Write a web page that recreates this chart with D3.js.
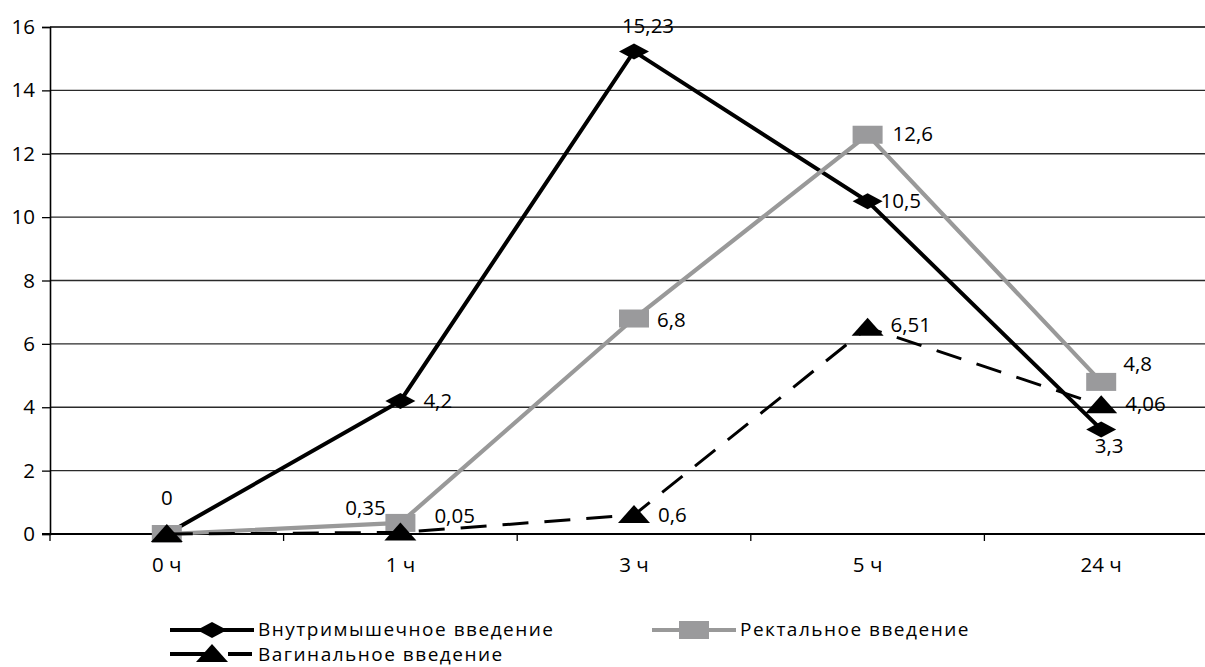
<!DOCTYPE html>
<html>
<head>
<meta charset="utf-8">
<script src="https://cdn.jsdelivr.net/npm/d3@7"></script>
<style>
  html, body { margin: 0; padding: 0; background: #fff; }
  svg { display: block; font-family: "Open Sans", "DejaVu Sans", sans-serif; }
</style>
</head>
<body>
<svg id="chart" width="1205" height="667"></svg>
<script>
// Time points and concentrations for three routes of administration
const categories = ["0 ч", "1 ч", "3 ч", "5 ч", "24 ч"];
const yTicks = [0, 2, 4, 6, 8, 10, 12, 14, 16];

const imValues = [0, 4.2, 15.23, 10.5, 3.3];        // Внутримышечное введение
const rectalValues = [0, 0.35, 6.8, 12.6, 4.8];     // Ректальное введение
const vaginalValues = [0, 0.05, 0.6, 6.51, 4.06];   // Вагинальное введение

const seriesNames = ["Внутримышечное введение", "Ректальное введение", "Вагинальное введение"];

// Label placement per point: [dx, dy, anchor]; null = no label
const imLabelPos = [[0, -29, "middle"], [23, 7, "start"], [14, -18, "middle"], [13, 7, "start"], [8, 24, "middle"]];
const rectalLabelPos = [null, [-35, -8, "middle"], [23, 8, "start"], [25, 6, "start"], [22, -11, "start"]];
const vaginalLabelPos = [null, [34, -9, "start"], [24, 7, "start"], [23, 4, "start"], [24, 6, "start"]];

const FONT = 20.5;
const LEGEND_FONT = 19;

const svg = d3.select("#chart");
const margin = { left: 50, top: 27, bottom: 534 };
const plotRight = 1218;

const x = d3.scaleBand().domain(categories).range([margin.left, plotRight]).padding(0);
const cx = c => x(c) + x.bandwidth() / 2;
const y = d3.scaleLinear().domain([0, 16]).range([margin.bottom, margin.top]);

// Horizontal grid lines
svg.append("g")
  .selectAll("line")
  .data(yTicks.filter(t => t > 0))
  .join("line")
  .attr("x1", margin.left).attr("x2", 1205)
  .attr("y1", d => y(d)).attr("y2", d => y(d))
  .attr("stroke", d => d === 16 ? "#000" : "#2a2a2a")
  .attr("stroke-width", 1.3);

// Y axis
const yAxis = svg.append("g")
  .attr("transform", `translate(${margin.left},0)`)
  .call(d3.axisLeft(y).tickValues(yTicks).tickSize(8).tickPadding(7).tickFormat(d3.format("d")));
yAxis.select(".domain").attr("stroke", "#000").attr("stroke-width", 1.6);
yAxis.selectAll(".tick line").attr("stroke", "#000").attr("stroke-width", 1.3);
yAxis.selectAll(".tick text")
  .attr("font-size", FONT).attr("fill", "#000")
  .attr("font-family", "'Open Sans', sans-serif");

// X axis: tick marks at category boundaries, labels at centres
const xAxisG = svg.append("g").attr("transform", `translate(0,${margin.bottom})`);
xAxisG.append("line")
  .attr("x1", margin.left - 8).attr("x2", 1205)
  .attr("y1", 0).attr("y2", 0)
  .attr("stroke", "#000").attr("stroke-width", 2);
xAxisG.selectAll("line.bound")
  .data(categories)
  .join("line")
  .attr("class", "bound")
  .attr("x1", d => x(d)).attr("x2", d => x(d))
  .attr("y1", 0).attr("y2", 7)
  .attr("stroke", "#000").attr("stroke-width", 1.3);
xAxisG.selectAll("text")
  .data(categories)
  .join("text")
  .attr("x", d => cx(d))
  .attr("y", 38)
  .attr("text-anchor", "middle")
  .attr("font-size", FONT)
  .text(d => d);

// Marker shapes (flattened, wider than tall)
function drawMarker(g, type, px, py, color) {
  if (type === "diamond") {
    g.append("path")
      .attr("d", `M${px - 15},${py} L${px},${py - 8} L${px + 15},${py} L${px},${py + 8} Z`)
      .attr("fill", color);
  } else if (type === "square") {
    g.append("rect")
      .attr("x", px - 15).attr("y", py - 9).attr("width", 30).attr("height", 18)
      .attr("fill", color);
  } else {
    g.append("path")
      .attr("d", `M${px},${py - 10} L${px + 16},${py + 8} L${px - 16},${py + 8} Z`)
      .attr("fill", color);
  }
}

const series = [
  { name: seriesNames[0], values: imValues, labels: imLabelPos, color: "#000", markerColor: "#000", marker: "diamond", dash: null, width: 4 },
  { name: seriesNames[1], values: rectalValues, labels: rectalLabelPos, color: "#999999", markerColor: "#9a9a9c", marker: "square", dash: null, width: 4.2 },
  { name: seriesNames[2], values: vaginalValues, labels: vaginalLabelPos, color: "#000", markerColor: "#000", marker: "triangle", dash: "26,16", width: 3 }
];

const line = d3.line().x(d => cx(d.c)).y(d => y(d.v));

series.forEach(s => {
  const pts = categories.map((c, i) => ({ c, v: s.values[i] }));
  const g = svg.append("g");
  g.append("path")
    .datum(pts)
    .attr("d", line)
    .attr("fill", "none")
    .attr("stroke", s.color)
    .attr("stroke-width", s.width)
    .attr("stroke-dasharray", s.dash);
  pts.forEach(p => drawMarker(g, s.marker, cx(p.c), y(p.v), s.markerColor));
});

// Value labels
series.forEach(s => {
  categories.forEach((c, i) => {
    const lp = s.labels[i];
    if (!lp) return;
    svg.append("text")
      .attr("x", cx(c) + lp[0])
      .attr("y", y(s.values[i]) + lp[1])
      .attr("text-anchor", lp[2])
      .attr("font-size", FONT)
      .attr("fill", "#000")
      .text(String(s.values[i]).replace(".", ","));
  });
});

// Legend
const legendItems = [
  { s: series[0], x: 170, y: 630, ty: 636 },
  { s: series[1], x: 652, y: 630, ty: 636 },
  { s: series[2], x: 170, y: 654, ty: 661 }
];
legendItems.forEach(it => {
  const g = svg.append("g");
  const s = it.s;
  if (s.dash) {
    g.append("line").attr("x1", it.x).attr("x2", it.x + 44).attr("y1", it.y).attr("y2", it.y)
      .attr("stroke", s.color).attr("stroke-width", 4);
    g.append("line").attr("x1", it.x + 58).attr("x2", it.x + 82).attr("y1", it.y).attr("y2", it.y)
      .attr("stroke", s.color).attr("stroke-width", 4);
  } else {
    g.append("line").attr("x1", it.x).attr("x2", it.x + 84).attr("y1", it.y).attr("y2", it.y)
      .attr("stroke", s.color).attr("stroke-width", 4);
  }
  drawMarker(g, s.marker, it.x + 42, it.y, s.markerColor);
  g.append("text")
    .attr("x", it.x + 88).attr("y", it.ty)
    .attr("font-size", LEGEND_FONT).attr("fill", "#000")
    .attr("letter-spacing", 1.5)
    .text(s.name);
});
</script>
</body>
</html>
